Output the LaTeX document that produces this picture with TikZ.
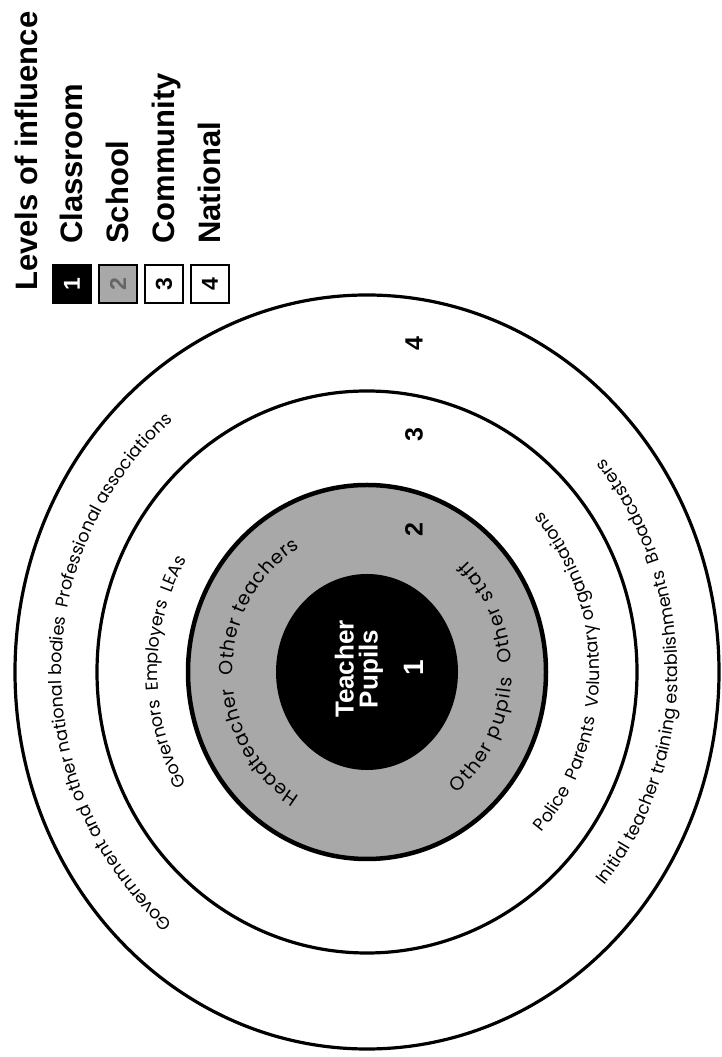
\documentclass[tikz,border=0pt]{standalone}
\usepackage{fontspec}
\setmainfont{Liberation Sans}
\newfontfamily\ringfnt{Poppins}
\usepackage{tikz}
\usetikzlibrary{decorations.text}
\definecolor{schoolgrey}{gray}{0.66}

\begin{document}
\begin{tikzpicture}[
   x=1pt,y=1pt,
   ring/.style={draw,line width=3.2pt},
   num/.style={font=\fontsize{25}{25}\selectfont\bfseries,rotate=90,inner sep=0pt},
   key/.style={draw,line width=2.2pt,minimum size=38pt,inner sep=0pt,rotate=90,
     font=\fontsize{23}{23}\selectfont\bfseries},
   keytext/.style={font=\fontsize{31}{31}\selectfont\bfseries,rotate=90,anchor=base west,inner sep=0pt},
   ringtext/.style={decorate,decoration={text along path,text align=center,raise=-0.5ex,
     text={|\ringfnt\fontsize{17.5}{17.5}\selectfont|#1}}},
   greytext/.style={decorate,decoration={text along path,text align=fit to path,raise=-0.5ex,
     text={|\ringfnt\fontsize{19}{19}\selectfont|#1}}}]
 \path[use as bounding box,fill=white] (0,0) rectangle (721,1057);
 \coordinate (ctr) at (367,385);
 \draw[ring] (ctr) ellipse[x radius=352pt,y radius=377pt];
 \draw[ring] (ctr) ellipse[x radius=270pt,y radius=281pt];
 \draw[ring,fill=schoolgrey,line width=4.5pt] (ctr) ellipse[x radius=179pt,y radius=187pt];
 \fill (ctr) ellipse[x radius=91pt,y radius=98pt];
 \node[num,text=white,font=\fontsize{26}{24}\selectfont\bfseries,align=center] (core) at (359,388) {Teacher\\Pupils};
 \node[num,text=white,font=\fontsize{28}{28}\selectfont\bfseries] (n1) at (414,389) {1};
 \node[num] (n2) at (414,527) {2};
 \node[num] (n3) at (414,622) {3};
 \node[num] (n4) at (414,713) {4};
 \path[greytext={Headteacher{\ }{\ }Other teachers}]
   ([shift={(240:137pt and 146pt)}]ctr) arc[start angle=240,end angle=120,x radius=137pt,y radius=146pt];
 \path[greytext={Other pupils{\ }{\ }Other staff}]
   ([shift={(-52:142pt and 151pt)}]ctr) arc[start angle=-52,end angle=47,x radius=142pt,y radius=151pt];
 \path[ringtext={Governors{\ }{\ }Employers{\ }{\ }LEAs}]
   ([shift={(270:212pt and 224pt)}]ctr) arc[start angle=270,end angle=90,x radius=212pt,y radius=224pt];
 \path[ringtext={Police{\ }{\ }Parents{\ }{\ }Voluntary organisations}]
   ([shift={(-90:230pt and 241pt)}]ctr) arc[start angle=-90,end angle=90,x radius=230pt,y radius=241pt];
 \path[ringtext={Government and other national bodies{\ }{\ }Professional associations}]
   ([shift={(270:308pt and 328pt)}]ctr) arc[start angle=270,end angle=90,x radius=308pt,y radius=328pt];
 \path[ringtext={Initial teacher training establishments{\ }{\ }Broadcasters}]
   ([shift={(-90:308pt and 328pt)}]ctr) arc[start angle=-90,end angle=90,x radius=308pt,y radius=328pt];
 \node[keytext] (title) at (37,766) {Levels of influence};
 \node[key,fill=black,text=white] (k1) at (72,773) {1};
 \node[key,fill=schoolgrey,text=black!60] (k2) at (118,773) {2};
 \node[key] (k3) at (164,773) {3};
 \node[key] (k4) at (210,773) {4};
 \node[keytext] (classroom) at (82,813) {Classroom};
 \node[keytext] (school) at (128,813) {School};
 \node[keytext] (community) at (174,813) {Community};
 \node[keytext] (national) at (220,813) {National};
\end{tikzpicture}
\end{document}
